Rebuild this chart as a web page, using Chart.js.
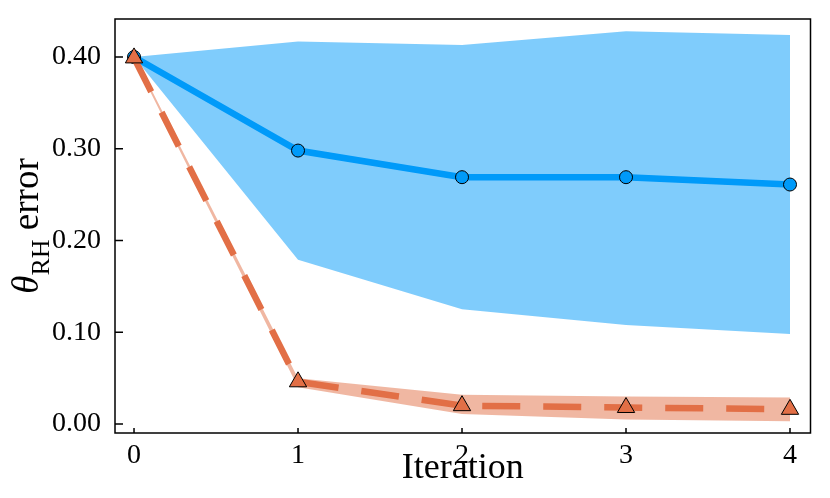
<!DOCTYPE html>
<html>
<head>
<meta charset="utf-8">
<script src="https://cdn.jsdelivr.net/npm/chart.js@4.4.0/dist/chart.umd.min.js"></script>
<style>
  html, body { margin: 0; padding: 0; background: #fff; }
  #wrap { width: 830px; height: 498px; }
</style>
</head>
<body>
<div id="wrap"><canvas id="chart" width="830" height="498"></canvas></div>
<script>
// values
const iterations = [0, 1, 2, 3, 4];
const blueMean  = [0.400, 0.298, 0.269, 0.269, 0.261];
const blueUpper = [0.400, 0.417, 0.413, 0.428, 0.424];
const blueLower = [0.400, 0.179, 0.125, 0.108, 0.098];
const orangeMean  = [0.399, 0.046, 0.020, 0.018, 0.016];
const orangeUpper = [0.4015, 0.050, 0.032, 0.030, 0.029];
const orangeLower = [0.3975, 0.040, 0.011, 0.005, 0.003];
const xTicks = [0, 1, 2, 3, 4];
const yTicks = [0.0, 0.1, 0.2, 0.3, 0.4];

const BLUE = '#009af9';
const ORANGE = '#e26f46';
const FONT = '"Liberation Serif", "Times New Roman", serif';

function pts(ys) {
  return iterations.map((x, i) => ({ x: x, y: ys[i] }));
}

// box frame, inward ticks and the y title with subscript
const framePlugin = {
  id: 'frame',
  afterDraw(chart) {
    const ctx = chart.ctx;
    const a = chart.chartArea;
    const xs = chart.scales.x;
    const ys = chart.scales.y;
    ctx.save();
    ctx.strokeStyle = '#000';
    ctx.lineWidth = 1.5;
    ctx.strokeRect(a.left, a.top, a.right - a.left, a.bottom - a.top);
    ctx.beginPath();
    yTicks.forEach(v => {
      const py = ys.getPixelForValue(v);
      ctx.moveTo(a.left, py);
      ctx.lineTo(a.left + 8, py);
    });
    xTicks.forEach(v => {
      const px = xs.getPixelForValue(v);
      ctx.moveTo(px, a.bottom);
      ctx.lineTo(px, a.bottom - 5);
    });
    ctx.stroke();

    // y axis title: θ_RH error
    const cy = (a.top + a.bottom) / 2;
    ctx.translate(38, cy);
    ctx.rotate(-Math.PI / 2);
    ctx.fillStyle = '#000';
    ctx.textBaseline = 'alphabetic';
    const ital = 'italic 37px ' + FONT;
    const big = '37px ' + FONT;
    const small = '26px ' + FONT;
    ctx.font = ital; const w1 = ctx.measureText('θ').width;
    ctx.font = small; const w2 = ctx.measureText('RH').width;
    ctx.font = big; const w3 = ctx.measureText(' error').width;
    let x = -(w1 + w2 + w3) / 2;
    ctx.font = ital; ctx.fillText('θ', x, 0); x += w1;
    ctx.font = small; ctx.fillText('RH', x, 11); x += w2;
    ctx.font = big; ctx.fillText(' error', x, 0);
    ctx.restore();
  }
};

const band = (data, color, fill, order) => ({
  data: pts(data),
  borderWidth: 0,
  borderColor: 'transparent',
  backgroundColor: color,
  pointRadius: 0,
  fill: fill,
  order: order
});

new Chart(document.getElementById('chart'), {
  type: 'line',
  data: {
    datasets: [
      band(blueUpper, 'rgba(0,154,249,0.5)', '+1', 6),
      band(blueLower, 'rgba(0,154,249,0.5)', false, 5),
      {
        data: pts(blueMean),
        borderColor: BLUE,
        borderWidth: 6.5,
        pointStyle: 'circle',
        pointRadius: 6.5,
        pointBackgroundColor: BLUE,
        pointBorderColor: '#000',
        pointBorderWidth: 1,
        fill: false,
        order: 4
      },
      band(orangeUpper, 'rgba(226,111,70,0.5)', '+1', 3),
      band(orangeLower, 'rgba(226,111,70,0.5)', false, 2),
      {
        data: pts(orangeMean),
        borderColor: ORANGE,
        borderWidth: 6.5,
        borderDash: [38, 23],
        pointStyle: 'triangle',
        pointRadius: 10,
        pointBackgroundColor: ORANGE,
        pointBorderColor: '#000',
        pointBorderWidth: 1,
        fill: false,
        order: 1
      }
    ]
  },
  options: {
    responsive: false,
    animation: false,
    events: [],
    layout: { padding: { top: 19, right: 19.5, left: 0, bottom: 0 } },
    plugins: {
      legend: { display: false },
      tooltip: { enabled: false }
    },
    elements: { line: { tension: 0 } },
    scales: {
      x: {
        type: 'linear',
        min: -0.116,
        max: 4.125,
        afterBuildTicks: s => { s.ticks = xTicks.map(v => ({ value: v })); },
        afterFit: s => { s.height = 65; s.paddingLeft = 0; s.paddingRight = 0; },
        grid: { display: false, drawTicks: false },
        border: { display: false },
        ticks: {
          padding: 6,
          color: '#000',
          font: { family: FONT, size: 28 },
          callback: v => String(v)
        },
        title: {
          display: true,
          text: 'Iteration',
          color: '#000',
          font: { family: FONT, size: 36 },
          padding: { top: 0, bottom: 8 }
        }
      },
      y: {
        type: 'linear',
        min: -0.0098,
        max: 0.4414,
        afterBuildTicks: s => { s.ticks = yTicks.map(v => ({ value: v })); },
        afterFit: s => { s.width = 115; s.paddingTop = 0; s.paddingBottom = 0; },
        grid: { display: false, drawTicks: false },
        border: { display: false },
        ticks: {
          padding: 14,
          color: '#000',
          font: { family: FONT, size: 28 },
          callback: v => v.toFixed(2)
        }
      }
    }
  },
  plugins: [framePlugin]
});
</script>
</body>
</html>
